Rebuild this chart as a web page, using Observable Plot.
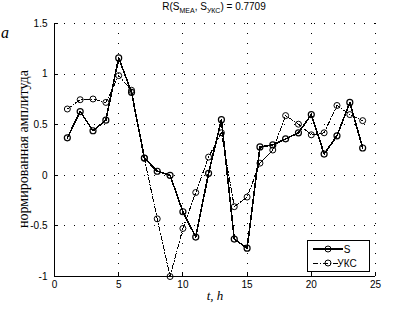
<!DOCTYPE html>
<html><head><meta charset="utf-8">
<script src="https://cdn.jsdelivr.net/npm/d3@7"></script>
<script src="https://cdn.jsdelivr.net/npm/@observablehq/plot@0.6"></script>
<style>body{margin:0;background:#fff} svg line, svg path, svg rect {shape-rendering:crispEdges}</style>
</head><body><div id="chart"></div>
<script>
const hours = [1,2,3,4,5,6,7,8,9,10,11,12,13,14,15,16,17,18,19,20,21,22,23,24];
const sValues = [0.37,0.63,0.44,0.545,1.16,0.82,0.17,0.04,0.0,-0.36,-0.61,0.02,0.55,-0.63,-0.72,0.28,0.30,0.36,0.42,0.60,0.21,0.39,0.72,0.27];
const uksValues = [0.655,0.747,0.754,0.72,0.985,0.84,0.17,-0.43,-1.0,-0.525,-0.17,0.18,0.42,-0.31,-0.215,0.12,0.25,0.59,0.505,0.40,0.42,0.69,0.60,0.54];
const xTicks = [0,5,10,15,20,25];
const yTicks = [-1,-0.5,0,0.5,1,1.5];
const seriesNames = ["S","УКС"];

const sData = hours.map((h,i)=>({h, v:sValues[i]}));
const uData = hours.map((h,i)=>({h, v:uksValues[i]}));
const dashDot = "5,2,1,2";

const svg = Plot.plot({
  width:414, height:310,
  marginLeft:54, marginRight:39, marginTop:23, marginBottom:34,
  x:{domain:[0,25]}, y:{domain:[-1,1.5]},
  style:{fontFamily:"'Liberation Sans', Arial, sans-serif", fontSize:"10px", background:"#fff", color:"#000"},
  marks:[
    Plot.gridX(xTicks,{stroke:"#000", strokeOpacity:1, strokeDasharray:"1,9"}),
    Plot.gridY(yTicks,{stroke:"#000", strokeOpacity:1, strokeDasharray:"1,9"}),
    Plot.ruleX([0],{y1:-1, y2:1.5, stroke:"#000"}),
    Plot.ruleY([-1],{x1:0, x2:25, stroke:"#000"}),
    Plot.ruleY(yTicks,{y:d=>d, x1:0, x2:0.3, stroke:"#000"}),
    Plot.ruleX(xTicks,{x:d=>d, y1:-1, y2:-0.96, stroke:"#000"}),
    Plot.axisX({ticks:xTicks, tickSize:0, tickPadding:4, label:null, tickFormat:d=>String(d)}),
    Plot.axisY({ticks:yTicks, tickSize:0, tickPadding:7, label:null, tickFormat:d=>String(d)}),
    Plot.line(uData,{x:"h", y:"v", stroke:"#000", strokeWidth:1, strokeDasharray:dashDot}),
    Plot.dot(uData,{x:"h", y:"v", r:3, stroke:"#000", strokeWidth:1, fill:"none"}),
    Plot.line(sData,{x:"h", y:"v", stroke:"#000", strokeWidth:1.6}),
    Plot.dot(sData,{x:"h", y:"v", r:3, stroke:"#000", strokeWidth:1.2, fill:"none"})
  ]
});
document.getElementById("chart").appendChild(svg);

const s = d3.select(svg);
// title
const t = s.append("text").attr("x",214).attr("y",10).attr("text-anchor","middle")
  .attr("font-family","'Liberation Sans', Arial, sans-serif").attr("font-size",10).attr("fill","#000");
t.append("tspan").text("R(S");
t.append("tspan").attr("font-size",7).attr("dy",3).text("МЕА");
t.append("tspan").attr("dy",-3).text(", S");
t.append("tspan").attr("font-size",7).attr("dy",3).text("УКС");
t.append("tspan").attr("dy",-3).text(") = 0.7709");
// panel letter
s.append("text").attr("x",5).attr("y",38).attr("font-family","'Liberation Serif', serif")
  .attr("font-style","italic").attr("font-size",16).attr("fill","#000").text("a");
// y label
s.append("text").attr("transform","translate(28,149) rotate(-90)").attr("text-anchor","middle")
  .attr("font-family","'Liberation Serif', serif").attr("font-size",14).attr("fill","#000")
  .text("нормированная амплитуда");
// x label
s.append("text").attr("x",215).attr("y",300).attr("text-anchor","middle")
  .attr("font-family","'Liberation Serif', serif").attr("font-style","italic").attr("font-size",13)
  .attr("fill","#000").text("t, h");
// legend
const lg = s.append("g");
lg.append("rect").attr("x",307.5).attr("y",240.5).attr("width",62).attr("height",31)
  .attr("fill","#fff").attr("stroke","#000");
const rows = [{name:seriesNames[0], dash:null, w:1.6, y:249},{name:seriesNames[1], dash:dashDot, w:1, y:263}];
rows.forEach(r=>{
  lg.append("line").attr("x1",313).attr("x2",343).attr("y1",r.y).attr("y2",r.y)
    .attr("stroke","#000").attr("stroke-width",r.w).attr("stroke-dasharray",r.dash);
  lg.append("circle").attr("cx",328).attr("cy",r.y).attr("r",3).attr("fill","none").attr("stroke","#000");
  lg.append("text").attr("x",347).attr("y",r.y+3.5).attr("font-family","'Liberation Sans', Arial, sans-serif")
    .attr("font-size",10).attr("fill","#000").text(r.name);
});
</script></body></html>
